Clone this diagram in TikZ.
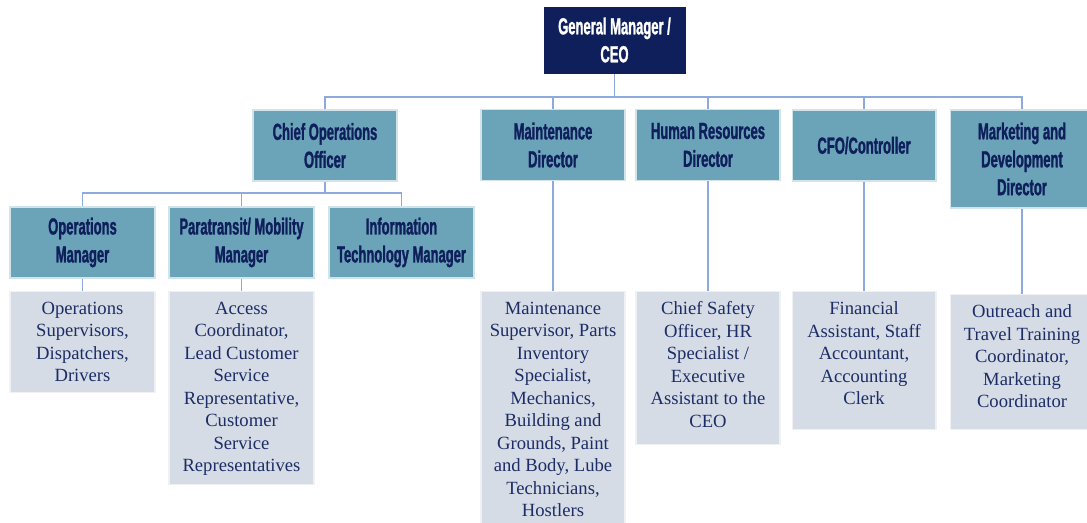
\documentclass[tikz,border=0pt]{standalone}
\usepackage{fontspec}
\setmainfont{Liberation Serif}
\newfontfamily\headfont[FakeStretch=0.56, FakeBold=1.2]{Liberation Sans}
\definecolor{navy}{HTML}{0E1F5B}
\definecolor{boxteal}{HTML}{6BA3B8}
\definecolor{staffgray}{HTML}{D6DCE5}
\definecolor{staffink}{HTML}{1C2D66}
\definecolor{linkblue}{HTML}{8EA9DB}

\begin{document}
\begin{tikzpicture}[x=0.02cm, y=-0.02cm,
		ceo/.style={rectangle, fill=navy, draw=white, text=white, minimum width=2.86cm, minimum height=1.36cm, align=center, font=\headfont\bfseries\fontsize{13.2}{15.9}\selectfont},
		head/.style={rectangle, fill=boxteal, draw=white!70!boxteal, line width=0.6pt, text=navy, minimum width=2.88cm, minimum height=1.42cm, align=center, font=\headfont\bfseries\fontsize{13.2}{15.9}\selectfont},
		staff/.style={rectangle, fill=staffgray, draw=white!60!staffgray, line width=0.6pt, minimum width=2.88cm, inner sep=0pt, anchor=north},
		stafftext/.style={anchor=north, inner sep=0pt, yshift=-0.21cm, align=center, text=staffink, font=\fontsize{10.6}{12.8}\selectfont},
		link/.style={draw=linkblue, line width=0.7pt}]
	\useasboundingbox (0,0) rectangle (1087,523);

	% top of the chart
	\node[ceo] (gm) at (614.5,40) {General Manager /\\CEO};

	% directors
	\node[head] (coo) at (325,145.5) {Chief Operations\\Officer};
	\node[head] (maint) at (553,145) {Maintenance\\Director};
	\node[head] (hr) at (708,145) {Human Resources\\Director};
	\node[head] (cfo) at (864,145.5) {CFO/Controller};
	\node[head, minimum height=1.96cm] (mkt) at (1022,159) {Marketing and\\Development\\Director};

	% managers under the COO
	\node[head, minimum width=2.9cm] (ops) at (82.5,242.5) {Operations\\Manager};
	\node[head, minimum width=2.9cm] (para) at (241.5,242.5) {Paratransit/ Mobility\\Manager};
	\node[head, minimum width=2.9cm] (itm) at (401.5,242.5) {Information\\Technology Manager};

	% staff boxes
	\node[staff, minimum width=2.9cm, minimum height=2.02cm] (opsStaff) at (82.5,291) {};
	\node[stafftext] (opsText) at (opsStaff.north) {Operations\\Supervisors,\\Dispatchers,\\Drivers};
	\node[staff, minimum width=2.9cm, minimum height=3.86cm] (paraStaff) at (241.5,291) {};
	\node[stafftext] (paraText) at (paraStaff.north) {Access\\Coordinator,\\Lead Customer\\Service\\Representative,\\Customer\\Service\\Representatives};
	\node[staff, minimum height=4.8cm] (maintStaff) at (553,291) {};
	\node[stafftext] (maintText) at (maintStaff.north) {Maintenance\\Supervisor, Parts\\Inventory\\Specialist,\\Mechanics,\\Building and\\Grounds, Paint\\and Body, Lube\\Technicians,\\Hostlers};
	\node[staff, minimum height=3.06cm] (hrStaff) at (708,291) {};
	\node[stafftext] (hrText) at (hrStaff.north) {Chief Safety\\Officer, HR\\Specialist /\\Executive\\Assistant to the\\CEO};
	\node[staff, minimum height=2.76cm] (cfoStaff) at (864,291) {};
	\node[stafftext] (cfoText) at (cfoStaff.north) {Financial\\Assistant, Staff\\Accountant,\\Accounting\\Clerk};
	\node[staff, minimum height=2.7cm] (mktStaff) at (1022,294) {};
	\node[stafftext] (mktText) at (mktStaff.north) {Outreach and\\Travel Training\\Coordinator,\\Marketing\\Coordinator};

	% connectors
	\coordinate (busA) at (0,97);
	\coordinate (busB) at (0,193);
	\foreach \n in {coo,maint,hr,cfo,mkt}
		\draw[link] (gm.south) -- (gm.south |- busA) -| (\n.north);
	\foreach \n in {ops,para,itm}
		\draw[link] (coo.south) -- (coo.south |- busB) -| (\n.north);
	\foreach \a/\b in {ops/opsStaff,para/paraStaff,maint/maintStaff,hr/hrStaff,cfo/cfoStaff,mkt/mktStaff}
		\draw[link] (\a.south) -- (\b.north);
\end{tikzpicture}
\end{document}
